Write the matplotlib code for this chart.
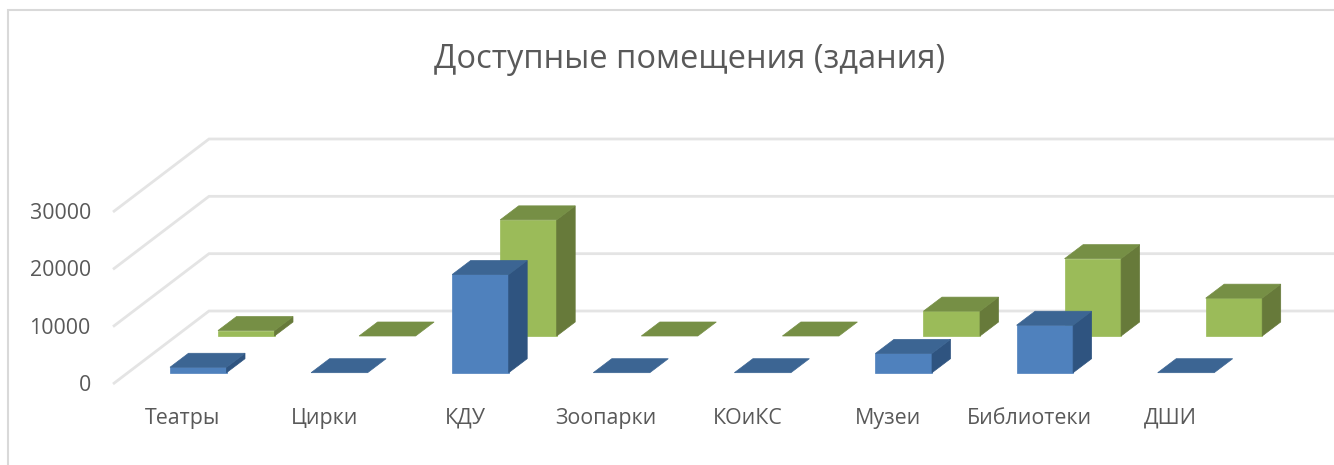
import matplotlib
matplotlib.use("Agg")
import matplotlib.pyplot as plt
from matplotlib.lines import Line2D
from matplotlib.transforms import ScaledTranslation

categories = ["Театры", "Цирки", "КДУ", "Зоопарки", "КОиКС", "Музеи", "Библиотеки", "ДШИ"]
series_front = [950, 0, 17130, 0, 0, 3370, 8280, 0]
series_back = [950, 0, 20260, 0, 0, 4340, 13490, 6600]
y_ticks = [0, 10000, 20000, 30000]

W, H = 1334, 465
LEFT, ZERO_Y, TOP_Y = 113, 384, 212   # pixel positions of the front axis
STEP = 141.1  # pixels per category
FIRST = 183   # pixel centre of the first category

X_PX = 1 / STEP
Y_PX = 30000 / (ZERO_Y - TOP_Y)


def draw_bar(ax, left, floor, value, colors):
    width = 56.5 * X_PX
    dx = 18.5 * X_PX
    dy = 14 * Y_PX
    front, side, top = colors
    right = left + width
    roof = floor + value
    if value > 0:
        ax.fill([left, right, right, left], [floor, floor, roof, roof],
                color=front, lw=0.5, clip_on=False, zorder=3)
        ax.fill([right, right + dx, right + dx, right],
                [floor, floor + dy, roof + dy, roof],
                color=side, lw=0.5, clip_on=False, zorder=3)
    ax.fill([left, right, right + dx, left + dx], [roof, roof, roof + dy, roof + dy],
            color=top, lw=0.5, clip_on=False, zorder=3)


def draw_grid(ax):
    x0 = (LEFT - FIRST) * X_PX
    x1 = (W - FIRST) * X_PX
    back_dx = 96 * X_PX
    back_dy = 73 * Y_PX
    for v in y_ticks:
        ax.plot([x0, x0 + back_dx, x1], [v, v + back_dy, v + back_dy],
                color="#e4e4e4", lw=2, clip_on=False, zorder=1,
                solid_joinstyle="miter", solid_capstyle="butt")


def main():
    plt.rcParams["font.family"] = ["Open Sans", "DejaVu Sans"]
    fig = plt.figure(figsize=(W / 100, H / 100), dpi=100, facecolor="white")
    ax = fig.add_axes([LEFT / W, 1 - ZERO_Y / H, (W - LEFT) / W, (ZERO_Y - TOP_Y) / H])
    ax.set_xlim((LEFT - FIRST) * X_PX, (W - FIRST) * X_PX)
    ax.set_ylim(0, 30000)
    ax.patch.set_alpha(0)
    for s in ax.spines.values():
        s.set_visible(False)

    draw_grid(ax)

    blue = ("#4f81bd", "#2f5480", "#3c6593")
    green = ("#9bbb59", "#677a3a", "#768f45")
    for i in range(len(categories)):
        left = i + (170 - FIRST) * X_PX
        draw_bar(ax, left + 48 * X_PX, 48 * Y_PX, series_back[i], green)
    for i in range(len(categories)):
        left = i + (170 - FIRST) * X_PX
        draw_bar(ax, left, 11.3 * Y_PX, series_front[i], blue)

    ax.set_xticks(range(len(categories)))
    ax.set_xticklabels(categories)
    ax.set_yticks(y_ticks)
    ax.set_yticklabels([str(v) for v in y_ticks])
    ax.tick_params(axis="x", length=0, pad=17, labelsize=15.4, colors="#595959")
    ax.tick_params(axis="y", length=0, pad=16, labelsize=15.4, colors="#595959")

    # y labels sit about a pixel higher than the gridline ends
    nudge = ScaledTranslation(0, 1 / 100, fig.dpi_scale_trans)
    for label in ax.get_yticklabels():
        label.set_transform(label.get_transform() + nudge)

    fig.text(690 / W, 1 - 59 / H, "Доступные помещения (здания)", ha="center", va="center",
             fontsize=23.5, color="#595959")

    # chart frame, only the top and left edges are in the picture
    fig.add_artist(Line2D([8 / W, 8 / W, 1], [0, 1 - 10.5 / H, 1 - 10.5 / H],
                          color="#d9d9d9", lw=1.5, solid_joinstyle="miter"))

    fig.savefig("out.png", dpi=100)


if __name__ == "__main__":
    main()
